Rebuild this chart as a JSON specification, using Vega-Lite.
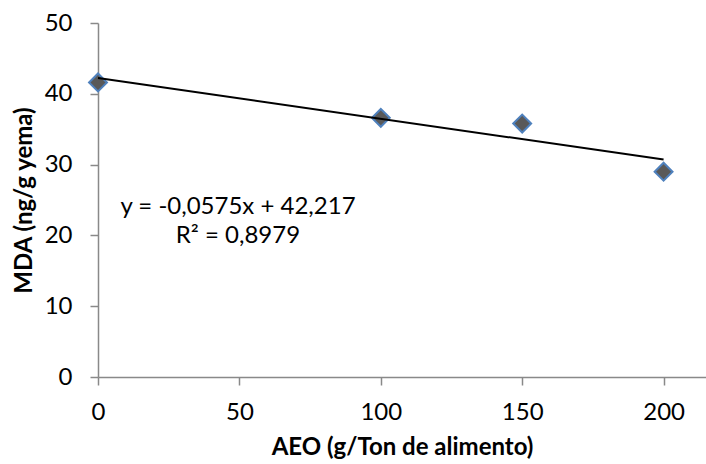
{
  "$schema": "https://vega.github.io/schema/vega-lite/v6.json",
  "width": 608,
  "height": 354,
  "autosize": "none",
  "padding": {"left": 98, "top": 23, "right": 0, "bottom": 87},
  "background": "white",
  "config": {
    "view": {"stroke": null},
    "font": "Lato",
    "axis": {
      "grid": false,
      "domainColor": "#898989",
      "domainWidth": 1.5,
      "tickColor": "#898989",
      "tickWidth": 1.5,
      "tickSize": 8,
      "labelFont": "Lato",
      "labelFontSize": 24,
      "labelColor": "#000000",
      "titleFont": "Lato",
      "titleFontSize": 24,
      "titleFontWeight": "bold",
      "titleColor": "#000000"
    }
  },
  "data": {
    "values": [
      {"aeo": 0, "mda": 41.6},
      {"aeo": 100, "mda": 36.6},
      {"aeo": 150, "mda": 35.8},
      {"aeo": 200, "mda": 29.0}
    ]
  },
  "layer": [
    {
      "mark": {"type": "point", "shape": "diamond", "filled": true, "size": 320, "fill": "#595959", "stroke": "#4F81BD", "strokeWidth": 2, "opacity": 1},
      "encoding": {
        "x": {
          "field": "aeo",
          "type": "quantitative",
          "scale": {"domain": [0, 215], "nice": false, "zero": false},
          "axis": {"values": [0, 50, 100, 150, 200], "title": "AEO (g/Ton de alimento)", "labelPadding": 15, "titlePadding": 11, "labelFlush": false}
        },
        "y": {
          "field": "mda",
          "type": "quantitative",
          "scale": {"domain": [0, 50], "nice": false},
          "axis": {"values": [0, 10, 20, 30, 40, 50], "title": "MDA (ng/g yema)", "labelPadding": 18, "titlePadding": 8}
        }
      }
    },
    {
      "transform": [{"regression": "mda", "on": "aeo", "extent": [0, 200]}],
      "mark": {"type": "line", "color": "#000000", "strokeWidth": 2},
      "encoding": {
        "x": {"field": "aeo", "type": "quantitative"},
        "y": {"field": "mda", "type": "quantitative"}
      }
    },
    {
      "data": {"values": [{"txt": "y = -0,0575x + 42,217\nR² = 0,8979"}]},
      "mark": {"type": "text", "font": "Lato", "fontSize": 24, "align": "center", "baseline": "middle", "lineBreak": "\n", "lineHeight": 29, "color": "#000000"},
      "encoding": {
        "x": {"datum": 49.5},
        "y": {"datum": 24.0},
        "text": {"field": "txt", "type": "nominal"}
      }
    }
  ]
}
